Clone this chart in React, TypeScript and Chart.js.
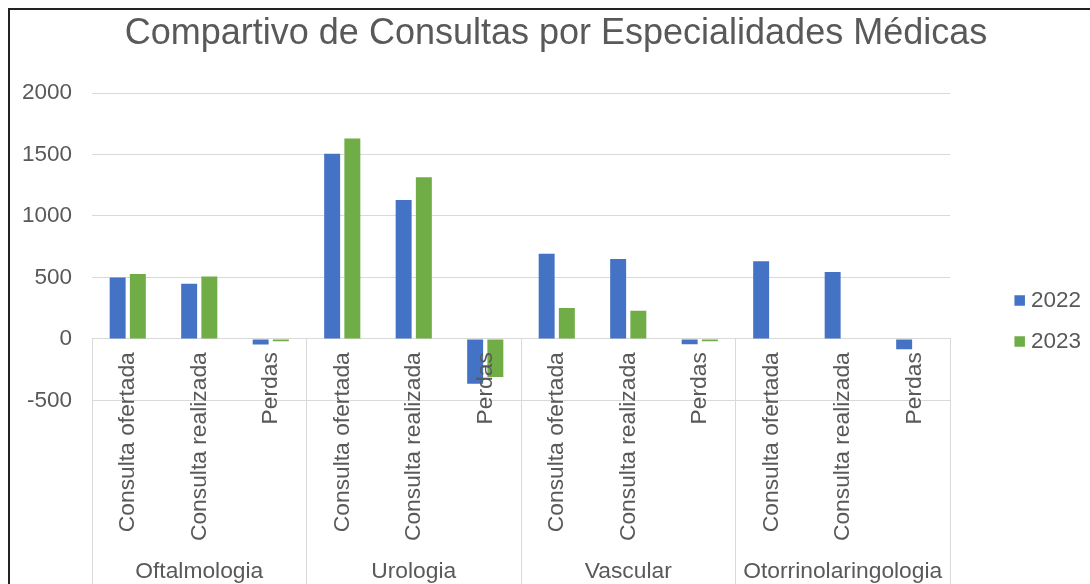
import React, { useEffect, useRef } from "react";
import { Chart, registerables } from "chart.js";

Chart.register(...registerables);

const TITLE = "Compartivo de Consultas por Especialidades Médicas";
const GROUPS = ["Oftalmologia", "Urologia", "Vascular", "Otorrinolaringologia"];
const SUBCATS = ["Consulta ofertada", "Consulta realizada", "Perdas"];
const CATEGORIES = GROUPS.flatMap(() => SUBCATS);
const SERIES_NAMES = ["2022", "2023"];
const VALUES_2022 = [500, 448, -45, 1505, 1130, -365, 693, 650, -43, 632, 545, -84];
const VALUES_2023 = [527, 507, -19, 1630, 1315, -310, 252, 230, -19, null, null, null];
const Y_MIN = -500;
const Y_MAX = 2000;
const Y_STEP = 500;

const COLORS = ["#4472C4", "#70AD47"];
const TEXT = "#595959";
const GRID = "#d9d9d9";
const FONT = "'Liberation Sans', Arial, sans-serif";

const W = 1100;
const H = 642;
const PAD_LEFT = 21;
const PAD_RIGHT = 9;
const PLOT_LEFT = 92;
const PLOT_RIGHT = 950;
const PLOT_BOTTOM = 400.4;

export default function App() {
  const ref = useRef<HTMLCanvasElement | null>(null);

  useEffect(() => {
    if (!ref.current) return;
    const chart = new Chart(ref.current, {
      type: "bar",
      data: {
        labels: CATEGORIES,
        datasets: [
          {
            label: SERIES_NAMES[0],
            data: VALUES_2022,
            backgroundColor: COLORS[0],
            categoryPercentage: 0.565,
            barPercentage: 0.79,
          },
          {
            label: SERIES_NAMES[1],
            data: VALUES_2023,
            backgroundColor: COLORS[1],
            categoryPercentage: 0.565,
            barPercentage: 0.79,
          },
        ],
      },
      options: {
        responsive: false,
        animation: false,
        layout: { padding: { left: PAD_LEFT, right: PAD_RIGHT, top: 0, bottom: 0 } },
        plugins: {
          tooltip: { enabled: false },
          title: {
            display: true,
            text: TITLE,
            color: TEXT,
            font: { family: FONT, size: 36, weight: "normal" },
            padding: { top: 12.1, bottom: 37.7 },
          },
          legend: {
            position: "right",
            align: "center",
            labels: {
              usePointStyle: true,
              pointStyle: "rect",
              boxWidth: 0.01,
              boxHeight: 10.5,
              padding: 18.5,
              color: TEXT,
              font: { family: FONT, size: 22.5 },
            },
          },
        },
        scales: {
          x: {
            type: "category",
            position: { y: 0 } as any,
            offset: true,
            grid: { display: false, drawTicks: false },
            border: { display: true, color: GRID, width: 1 },
            ticks: {
              z: 1,
              autoSkip: false,
              minRotation: 90,
              maxRotation: 90,
              padding: 13.3,
              color: TEXT,
              font: { family: FONT, size: 22.8 },
            },
            afterFit: (s: any) => {
              s.height = 0;
              s.paddingBottom = 0;
            },
          },
          x2: {
            type: "category",
            labels: GROUPS,
            position: { y: 0 } as any,
            offset: true,
            grid: {
              display: true,
              offset: true,
              drawOnChartArea: false,
              drawTicks: true,
              tickLength: 260,
              color: GRID,
              lineWidth: 1,
            },
            border: { display: false },
            ticks: {
              autoSkip: false,
              minRotation: 0,
              maxRotation: 0,
              padding: -41,
              color: TEXT,
              font: { family: FONT, size: 22.8 },
            },
            afterFit: (s: any) => {
              s.height = 0;
              s.paddingBottom = H - PLOT_BOTTOM;
            },
          },
          y: {
            type: "linear",
            position: "left",
            min: Y_MIN,
            max: Y_MAX,
            grid: { color: GRID, lineWidth: 1, drawTicks: false },
            border: { display: false },
            ticks: {
              stepSize: Y_STEP,
              padding: 20,
              color: TEXT,
              font: { family: FONT, size: 22.5 },
              callback: (v: any) => String(v),
            },
            afterFit: (s: any) => {
              s.width = PLOT_LEFT - PAD_LEFT;
            },
          },
          yPad: {
            type: "linear",
            position: "right",
            display: true,
            grid: { display: false, drawTicks: false },
            border: { display: false },
            ticks: { display: false },
            afterFit: (s: any) => {
              const lg = s.chart.legend;
              const lw = lg && lg.width ? lg.width : 90;
              s.width = Math.max(0, W - PAD_RIGHT - lw - PLOT_RIGHT);
            },
          },
        },
      },
    } as any);
    return () => chart.destroy();
  }, []);

  return (
    <div
      style={{
        position: "fixed",
        left: 0,
        top: 0,
        width: 1090,
        height: 584,
        overflow: "hidden",
        background: "#ffffff",
      }}
    >
      <canvas
        ref={ref}
        width={W}
        height={H}
        style={{ position: "absolute", left: 0, top: 0, width: W, height: H, display: "block" }}
      />
      <div
        style={{
          position: "absolute",
          left: 8,
          top: 8,
          width: 2000,
          height: 2000,
          borderLeft: "2px solid #222222",
          borderTop: "2px solid #222222",
          pointerEvents: "none",
        }}
      />
    </div>
  );
}
